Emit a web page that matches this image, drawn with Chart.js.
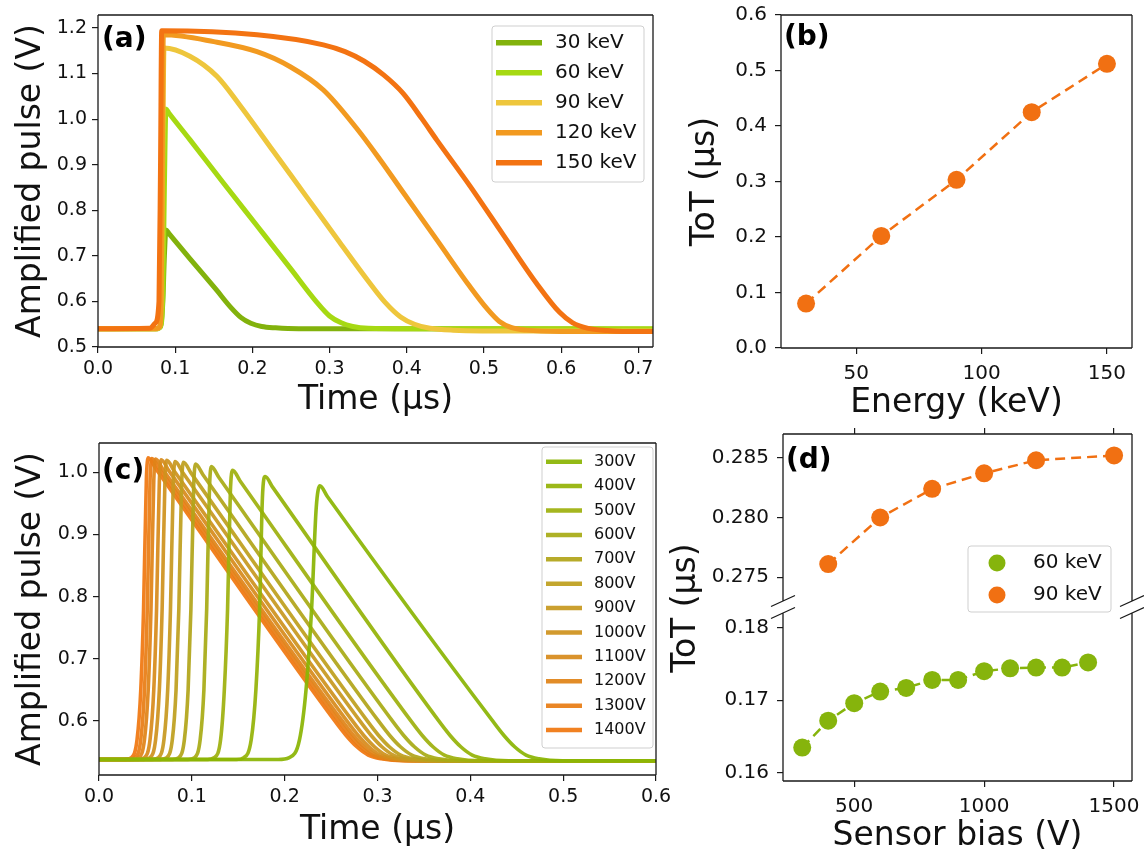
<!DOCTYPE html>
<html>
<head>
<meta charset="utf-8">
<script src="https://cdn.jsdelivr.net/npm/chart.js@4.4.1/dist/chart.umd.min.js"></script>
<style>
  html, body { margin: 0; padding: 0; background: #fff; }
  body { width: 1144px; height: 856px; position: relative; overflow: hidden; }
  .panel { position: absolute; }
</style>
</head>
<body>
<div class="panel" style="left:0;top:0;width:665px;height:425px"><canvas id="chart-a"></canvas></div>
<div class="panel" style="left:665px;top:0;width:479px;height:425px"><canvas id="chart-b"></canvas></div>
<div class="panel" style="left:0;top:425px;width:680px;height:431px"><canvas id="chart-c"></canvas></div>
<div class="panel" style="left:665px;top:425px;width:479px;height:186px"><canvas id="chart-d-top"></canvas></div>
<div class="panel" style="left:665px;top:425px;width:479px;height:431px"><canvas id="chart-d-bottom"></canvas></div>
<script>
// ---- (a) pulse shape vs photon energy, [time µs, amplitude V]
const energyLabels = ["30 keV", "60 keV", "90 keV", "120 keV", "150 keV"];
const pulse30keV = [[0,0.540],[0.075,0.540],[0.081,0.545],[0.084,0.60],[0.086,0.70],[0.088,0.757],[0.092,0.749],[0.119,0.694],[0.154,0.624],[0.172,0.587],[0.185,0.565],[0.198,0.552],[0.212,0.545],[0.230,0.542],[0.260,0.540],[0.350,0.540],[0.719,0.539]];
const pulse60keV = [[0,0.540],[0.075,0.540],[0.081,0.545],[0.084,0.62],[0.086,0.85],[0.088,1.022],[0.092,1.013],[0.119,0.955],[0.162,0.861],[0.206,0.766],[0.249,0.673],[0.283,0.599],[0.300,0.568],[0.315,0.553],[0.330,0.545],[0.350,0.541],[0.400,0.540],[0.719,0.540]];
const pulse90keV = [[0,0.540],[0.075,0.540],[0.080,0.545],[0.082,0.62],[0.084,0.95],[0.0855,1.156],[0.119,1.138],[0.154,1.094],[0.184,1.030],[0.227,0.930],[0.270,0.830],[0.313,0.730],[0.350,0.645],[0.372,0.598],[0.392,0.566],[0.410,0.550],[0.430,0.541],[0.460,0.537],[0.550,0.535],[0.719,0.535]];
const pulse120keV = [[0,0.540],[0.075,0.540],[0.080,0.545],[0.082,0.62],[0.0835,0.95],[0.0846,1.185],[0.150,1.170],[0.206,1.148],[0.249,1.115],[0.292,1.064],[0.335,0.980],[0.365,0.912],[0.395,0.840],[0.439,0.735],[0.482,0.632],[0.504,0.584],[0.520,0.556],[0.535,0.543],[0.555,0.537],[0.600,0.534],[0.719,0.534]];
const pulse150keV = [[0,0.540],[0.067,0.541],[0.074,0.552],[0.079,0.60],[0.081,0.90],[0.0825,1.194],[0.206,1.185],[0.292,1.163],[0.320,1.148],[0.345,1.127],[0.370,1.097],[0.395,1.057],[0.420,1.000],[0.439,0.954],[0.482,0.853],[0.525,0.746],[0.568,0.640],[0.598,0.576],[0.615,0.553],[0.635,0.541],[0.660,0.536],[0.680,0.534],[0.719,0.534]];
const aXTicks = [0.0, 0.1, 0.2, 0.3, 0.4, 0.5, 0.6, 0.7];
const aYTicks = [0.5, 0.6, 0.7, 0.8, 0.9, 1.0, 1.1, 1.2];

// ---- (b) ToT vs energy
const energies = [30, 60, 90, 120, 150];
const totByEnergy = [0.080, 0.202, 0.303, 0.425, 0.512];
const bXTicks = [50, 100, 150];
const bYTicks = [0.0, 0.1, 0.2, 0.3, 0.4, 0.5, 0.6];

// ---- (c) pulse shape vs sensor bias, [time µs, amplitude V]
const biasLabels = ["300V", "400V", "500V", "600V", "700V", "800V", "900V", "1000V", "1100V", "1200V", "1300V", "1400V"];
const pulse300V = [[0,0.538],[0.193,0.538],[0.205,0.541],[0.216,0.570],[0.223,0.65],[0.229,0.78],[0.234,0.943],[0.238,0.978],[0.246,0.961],[0.424,0.60],[0.436,0.577],[0.448,0.558],[0.460,0.545],[0.474,0.539],[0.499,0.536],[0.6,0.536]];
const pulse400V = [[0,0.538],[0.148,0.538],[0.156,0.541],[0.164,0.570],[0.169,0.65],[0.173,0.78],[0.176,0.958],[0.179,0.993],[0.187,0.976],[0.366,0.60],[0.378,0.577],[0.390,0.558],[0.402,0.545],[0.416,0.539],[0.441,0.536],[0.6,0.536]];
const pulse500V = [[0,0.538],[0.117,0.538],[0.124,0.541],[0.131,0.570],[0.135,0.65],[0.1385,0.78],[0.1415,0.968],[0.144,1.003],[0.152,0.986],[0.336,0.60],[0.348,0.577],[0.360,0.558],[0.372,0.545],[0.386,0.539],[0.411,0.536],[0.6,0.536]];
const pulse600V = [[0,0.538],[0.096,0.538],[0.103,0.541],[0.109,0.570],[0.113,0.65],[0.116,0.78],[0.119,0.974],[0.121,1.009],[0.129,0.992],[0.316,0.60],[0.328,0.577],[0.340,0.558],[0.352,0.545],[0.366,0.539],[0.391,0.536],[0.6,0.536]];
const pulse700V = [[0,0.538],[0.079,0.538],[0.086,0.541],[0.092,0.570],[0.096,0.65],[0.099,0.78],[0.102,0.978],[0.104,1.013],[0.112,0.996],[0.301,0.60],[0.313,0.577],[0.325,0.558],[0.337,0.545],[0.351,0.539],[0.376,0.536],[0.6,0.536]];
const pulse800V = [[0,0.538],[0.066,0.538],[0.073,0.541],[0.079,0.570],[0.083,0.65],[0.086,0.78],[0.089,0.981],[0.091,1.016],[0.099,0.999],[0.289,0.60],[0.301,0.577],[0.313,0.558],[0.325,0.545],[0.339,0.539],[0.364,0.536],[0.6,0.536]];
const pulse900V = [[0,0.538],[0.057,0.538],[0.064,0.541],[0.070,0.570],[0.074,0.65],[0.077,0.78],[0.080,0.982],[0.082,1.017],[0.090,1.000],[0.281,0.60],[0.293,0.577],[0.305,0.558],[0.317,0.545],[0.331,0.539],[0.356,0.536],[0.6,0.536]];
const pulse1000V = [[0,0.538],[0.048,0.538],[0.055,0.541],[0.061,0.570],[0.065,0.65],[0.068,0.78],[0.071,0.984],[0.073,1.019],[0.081,1.002],[0.273,0.60],[0.285,0.577],[0.297,0.558],[0.309,0.545],[0.323,0.539],[0.348,0.536],[0.6,0.536]];
const pulse1100V = [[0,0.538],[0.042,0.538],[0.049,0.541],[0.055,0.570],[0.059,0.65],[0.062,0.78],[0.065,0.985],[0.067,1.020],[0.075,1.003],[0.267,0.60],[0.279,0.577],[0.291,0.558],[0.303,0.545],[0.317,0.539],[0.342,0.536],[0.6,0.536]];
const pulse1200V = [[0,0.538],[0.036,0.538],[0.043,0.541],[0.049,0.570],[0.053,0.65],[0.056,0.78],[0.059,0.986],[0.061,1.021],[0.069,1.004],[0.262,0.60],[0.274,0.577],[0.286,0.558],[0.298,0.545],[0.312,0.539],[0.337,0.536],[0.6,0.536]];
const pulse1300V = [[0,0.538],[0.032,0.538],[0.039,0.541],[0.045,0.570],[0.049,0.65],[0.052,0.78],[0.055,0.987],[0.057,1.022],[0.065,1.005],[0.258,0.60],[0.270,0.577],[0.282,0.558],[0.294,0.545],[0.308,0.539],[0.333,0.536],[0.6,0.536]];
const pulse1400V = [[0,0.538],[0.028,0.538],[0.035,0.541],[0.041,0.570],[0.045,0.65],[0.048,0.78],[0.051,0.988],[0.053,1.023],[0.061,1.006],[0.254,0.60],[0.266,0.577],[0.278,0.558],[0.290,0.545],[0.304,0.539],[0.329,0.536],[0.6,0.536]];
const cXTicks = [0.0, 0.1, 0.2, 0.3, 0.4, 0.5, 0.6];
const cYTicks = [0.6, 0.7, 0.8, 0.9, 1.0];

// ---- (d) ToT vs sensor bias (broken y axis)
const bias60keV = [300, 400, 500, 600, 700, 800, 900, 1000, 1100, 1200, 1300, 1400];
const tot60keV = [0.1635, 0.1672, 0.1696, 0.1712, 0.1717, 0.1728, 0.1728, 0.1740, 0.1744, 0.1745, 0.1745, 0.1752];
const bias90keV = [400, 600, 800, 1000, 1200, 1500];
const tot90keV = [0.2761, 0.2800, 0.2824, 0.2837, 0.2848, 0.2852];
const dXTicks = [500, 1000, 1500];
const dYTicksTop = [0.275, 0.280, 0.285];
const dYTicksBottom = [0.16, 0.17, 0.18];

// colours
const energyColors = ["#82b20c", "#a6d912", "#eec63c", "#f29a20", "#f37312"];
const biasColors = [
  "rgba(139,181,4,0.93)", "rgba(148,179,8,0.93)", "rgba(158,176,14,0.93)", "rgba(168,171,22,0.93)",
  "rgba(178,165,26,0.93)", "rgba(190,159,30,0.93)", "rgba(199,153,32,0.93)", "rgba(207,146,30,0.93)",
  "rgba(215,139,28,0.93)", "rgba(224,131,24,0.93)", "rgba(232,125,20,0.93)", "rgba(240,119,16,0.93)"
];
const green = "#86b40c";
const orange = "#f17012";

Chart.defaults.font.family = '"DejaVu Sans", sans-serif';
Chart.defaults.color = "#111";
Chart.defaults.animation = false;
Chart.defaults.responsive = true;
Chart.defaults.maintainAspectRatio = false;
Chart.defaults.plugins.legend.display = false;
Chart.defaults.plugins.tooltip.enabled = false;

function pts(pairs) { return pairs.map(p => ({ x: p[0], y: p[1] })); }
function zip(xs, ys) { return xs.map((x, i) => ({ x: x, y: ys[i] })); }

// linear axis with fixed tick list, fixed box size and matplotlib-like tick marks
function axis(min, max, tickVals, digits, size, pad, box, title) {
  const a = {
    type: "linear", min: min, max: max,
    afterBuildTicks: s => { s.ticks = tickVals.map(v => ({ value: v })); },
    afterFit: s => {
      if (s.isHorizontal()) s.height = box; else s.width = box;
      s.paddingTop = 0; s.paddingBottom = 0; s.paddingLeft = 0; s.paddingRight = 0;
    },
    ticks: { callback: v => v.toFixed(digits), font: { size: size }, color: "#111", padding: pad, maxRotation: 0, autoSkip: false },
    grid: { drawOnChartArea: false, drawTicks: true, tickLength: 6, color: "#1a1a1a", lineWidth: 1.2 },
    border: { display: false }
  };
  if (title) {
    a.title = { display: true, text: title.text, color: "#111", font: { size: 33, lineHeight: 1.2 }, padding: title.padding };
  }
  return a;
}

// box, break marks, panel tag, free titles
const framePlugin = {
  id: "frame",
  afterDraw(chart, args, o) {
    const a = chart.chartArea, ctx = chart.ctx, s = o.sides || "ltrb";
    ctx.save();
    ctx.strokeStyle = "#1a1a1a";
    ctx.lineWidth = 1.3;
    ctx.beginPath();
    if (s.includes("l")) { ctx.moveTo(a.left, a.top); ctx.lineTo(a.left, a.bottom); }
    if (s.includes("r")) { ctx.moveTo(a.right, a.top); ctx.lineTo(a.right, a.bottom); }
    if (s.includes("t")) { ctx.moveTo(a.left, a.top); ctx.lineTo(a.right, a.top); }
    if (s.includes("b")) { ctx.moveTo(a.left, a.bottom); ctx.lineTo(a.right, a.bottom); }
    if (o.breakAt) {
      const y = o.breakAt === "bottom" ? a.bottom : a.top;
      [a.left, a.right].forEach(x => { ctx.moveTo(x - 12, y + 5.5); ctx.lineTo(x + 12, y - 5.5); });
    }
    ctx.stroke();
    if (o.tag) {
      ctx.font = 'bold 28px "DejaVu Sans", sans-serif';
      ctx.fillStyle = "#000";
      ctx.textBaseline = "middle";
      ctx.textAlign = "left";
      ctx.fillText(o.tag.text, o.tag.x, o.tag.y);
    }
    if (o.yTitle) {
      ctx.translate(o.yTitle.x, o.yTitle.y);
      ctx.rotate(-Math.PI / 2);
      ctx.font = '33px "DejaVu Sans", sans-serif';
      ctx.fillStyle = "#111";
      ctx.textAlign = "center";
      ctx.textBaseline = "middle";
      ctx.fillText(o.yTitle.text, 0, 0);
    }
    ctx.restore();
  }
};

const boxLegend = {
  id: "boxLegend",
  afterDraw(chart, args, o) {
    if (!o.box) return;
    const ctx = chart.ctx, [x, y, w, h] = o.box;
    ctx.save();
    ctx.beginPath();
    ctx.roundRect(x, y, w, h, 3);
    ctx.fillStyle = "rgba(255,255,255,0.85)";
    ctx.fill();
    ctx.strokeStyle = "#cfcfcf";
    ctx.lineWidth = 1;
    ctx.stroke();
    ctx.font = o.size + 'px "DejaVu Sans", sans-serif';
    ctx.textBaseline = "middle";
    ctx.textAlign = "left";
    chart.data.datasets.forEach((ds, i) => {
      const ry = y + o.first + i * o.step;
      ctx.beginPath();
      if (o.marker === "dot") {
        ctx.arc(o.mx, ry, o.r, 0, Math.PI * 2);
        ctx.fillStyle = ds.borderColor;
        ctx.fill();
      } else {
        ctx.moveTo(o.sx0, ry); ctx.lineTo(o.sx1, ry);
        ctx.strokeStyle = ds.borderColor;
        ctx.lineWidth = o.lw;
        ctx.stroke();
      }
      ctx.fillStyle = "#111";
      ctx.fillText(ds.label, o.tx, ry);
    });
    ctx.restore();
  }
};

// ---------- (a)
const energyPulses = [pulse30keV, pulse60keV, pulse90keV, pulse120keV, pulse150keV];
new Chart(document.getElementById("chart-a"), {
  type: "line",
  data: {
    datasets: energyPulses.map((p, i) => ({
      label: energyLabels[i], data: pts(p), borderColor: energyColors[i],
      borderWidth: 5, pointRadius: 0, cubicInterpolationMode: "monotone", order: 5 - i,
      borderJoinStyle: "round", borderCapStyle: "round"
    }))
  },
  options: {
    layout: { padding: { top: 15, right: 12, left: 0, bottom: 0 } },
    scales: {
      x: axis(0, 0.719, aXTicks, 1, 19, 5, 78, { text: "Time (µs)", padding: { top: 0, bottom: 5 } }),
      y: axis(0.5, 1.2285, aYTicks, 1, 19, 5, 98, { text: "Amplified pulse (V)", padding: { top: 12, bottom: 0 } })
    },
    plugins: {
      frame: { sides: "ltrb", tag: { text: "(a)", x: 102, y: 40 } },
      boxLegend: { box: [492, 26, 152, 156], first: 16.7, step: 30, sx0: 496, sx1: 542, lw: 5.5, tx: 555, size: 20 }
    }
  },
  plugins: [framePlugin, boxLegend]
});

// ---------- (b)
new Chart(document.getElementById("chart-b"), {
  type: "line",
  data: {
    datasets: [{
      label: "ToT", data: zip(energies, totByEnergy), borderColor: orange, backgroundColor: orange,
      borderWidth: 2.5, borderDash: [10, 6], pointRadius: 9, pointBorderWidth: 0,
      pointBackgroundColor: orange, tension: 0
    }]
  },
  options: {
    layout: { padding: { top: 15, right: 12, left: 0, bottom: 0 } },
    scales: {
      x: axis(20, 160, bXTicks, 0, 20, 8, 77, { text: "Energy (keV)", padding: { top: 0, bottom: 2 } }),
      y: axis(0, 0.6, bYTicks, 1, 20, 8, 116, { text: "ToT (µs)", padding: { top: 21, bottom: 0 } })
    },
    plugins: { frame: { sides: "ltrb", tag: { text: "(b)", x: 119, y: 38 } } }
  },
  plugins: [framePlugin]
});

// ---------- (c)
const biasPulses = [pulse300V, pulse400V, pulse500V, pulse600V, pulse700V, pulse800V, pulse900V, pulse1000V, pulse1100V, pulse1200V, pulse1300V, pulse1400V];
new Chart(document.getElementById("chart-c"), {
  type: "line",
  data: {
    datasets: biasPulses.map((p, i) => ({
      label: biasLabels[i], data: pts(p), borderColor: biasColors[i],
      borderWidth: 3.6, pointRadius: 0, cubicInterpolationMode: "monotone",
      borderJoinStyle: "round", borderCapStyle: "round"
    }))
  },
  options: {
    layout: { padding: { top: 18, right: 24, left: 0, bottom: 0 } },
    scales: {
      x: axis(0, 0.6, cXTicks, 1, 19, 5, 81, { text: "Time (µs)", padding: { top: 0, bottom: 6 } }),
      y: axis(0.513, 1.047, cYTicks, 1, 19, 5, 99, { text: "Amplified pulse (V)", padding: { top: 12, bottom: 0 } })
    },
    plugins: {
      frame: { sides: "ltrb", tag: { text: "(c)", x: 102, y: 46.5 } },
      boxLegend: { box: [542, 22, 111, 301], first: 14.7, step: 24.4, sx0: 546, sx1: 582, lw: 4.5, tx: 594, size: 16 }
    }
  },
  plugins: [framePlugin, boxLegend]
});

// ---------- (d) broken axis: upper and lower parts
function biasSets() {
  return [
    { label: "60 keV", data: zip(bias60keV, tot60keV), borderColor: green, backgroundColor: green,
      borderWidth: 2.5, borderDash: [10, 6], pointRadius: 9, pointBorderWidth: 0, pointBackgroundColor: green, tension: 0 },
    { label: "90 keV", data: zip(bias90keV, tot90keV), borderColor: orange, backgroundColor: orange,
      borderWidth: 2.5, borderDash: [10, 6], pointRadius: 9, pointBorderWidth: 0, pointBackgroundColor: orange, tension: 0 }
  ];
}

const dTopX = axis(226, 1569, dXTicks, 0, 20, 8, 8, null);
dTopX.position = "top";
dTopX.ticks.display = false;
new Chart(document.getElementById("chart-d-top"), {
  type: "line",
  data: { datasets: biasSets() },
  options: {
    layout: { padding: { top: 0, right: 12, left: 0, bottom: 10 } },
    scales: {
      x: dTopX,
      y: axis(0.273, 0.287, dYTicksTop, 3, 20, 8, 118, null)
    },
    plugins: { frame: { sides: "ltr", breakAt: "bottom", tag: { text: "(d)", x: 121, y: 35.5 } } }
  },
  plugins: [framePlugin]
});

new Chart(document.getElementById("chart-d-bottom"), {
  type: "line",
  data: { datasets: biasSets() },
  options: {
    layout: { padding: { top: 188, right: 12, left: 0, bottom: 0 } },
    scales: {
      x: axis(226, 1569, dXTicks, 0, 20, 8, 75, { text: "Sensor bias (V)", padding: { top: 0, bottom: 0 } }),
      y: axis(0.1589, 0.182, dYTicksBottom, 2, 20, 8, 118, null)
    },
    plugins: {
      frame: { sides: "lrb", breakAt: "top", yTitle: { text: "ToT (µs)", x: 21, y: 183 } },
      boxLegend: { box: [303, 121, 143, 66], first: 17, step: 32, marker: "dot", mx: 332, r: 8.5, tx: 368, size: 20 }
    }
  },
  plugins: [framePlugin, boxLegend]
});
</script>
</body>
</html>
